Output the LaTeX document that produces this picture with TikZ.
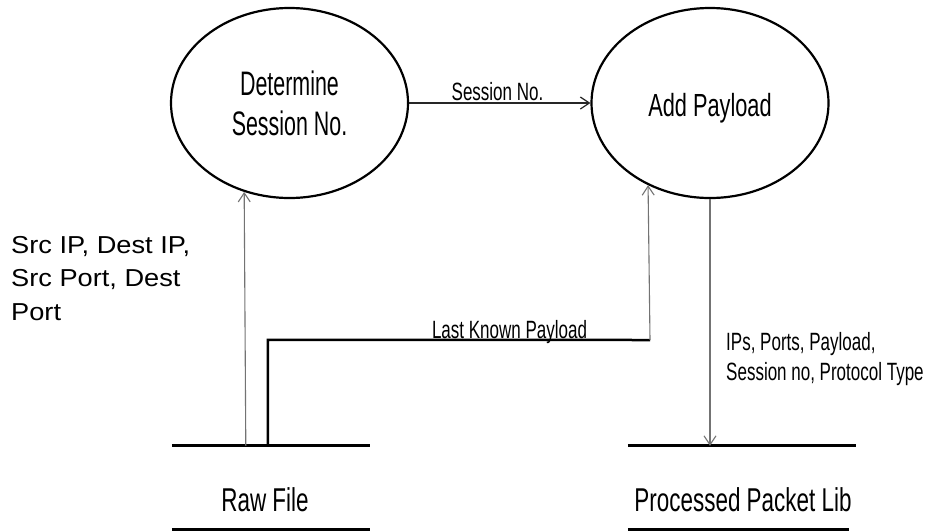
\documentclass[tikz,border=0pt]{standalone}
\usepackage{fontspec}
\setmainfont{Liberation Sans}
\newfontfamily\narrowfont[FakeStretch=0.68]{Liberation Sans}
\newfontfamily\tallfont[FakeStretch=0.63]{Liberation Sans}
\newfontfamily\widefont[FakeStretch=1.11]{Liberation Sans}
\usetikzlibrary{shapes.geometric,arrows.meta,calc}

\tikzset{
  process/.style={ellipse, draw=black, line width=2.2pt, inner sep=0pt,
    minimum width=237pt, minimum height=190pt},
  store/.style={minimum width=198pt, minimum height=83pt, inner sep=0pt},
  storeline/.style={line width=2.8pt, black},
  flow/.style={line width=1.1pt, draw=black!55,
    -{Straight Barb[length=9pt,width=12pt,line width=1.1pt]}},
  mainflow/.style={line width=1.4pt, draw=black!85,
    -{Straight Barb[length=9pt,width=12pt,line width=1.2pt]}},
  thickflow/.style={line width=2.5pt, black},
  bigtext/.style={font=\narrowfont\fontsize{32}{40}\selectfont, align=center, inner sep=0pt},
  proctext/.style={font=\tallfont\fontsize{34}{40}\selectfont, align=center, inner sep=0pt},
  storetext/.style={font=\narrowfont\fontsize{33}{40}\selectfont, inner sep=0pt},
  flowtext/.style={font=\narrowfont\fontsize{25}{30.5}\selectfont, inner sep=0pt},
  sidetext/.style={font=\widefont\fontsize{24.5}{33.5}\selectfont, inner sep=0pt, align=left}
}

\begin{document}
\begin{tikzpicture}[x=1pt,y=-1pt]
  \useasboundingbox (0,0) rectangle (936,531);

  % processes (multi-line text is placed by the baseline of its last line)
  \node[process] (det) at (289.5,103) {};
  \node[proctext, anchor=base] (dettxt) at (289.5,135) {Determine\\Session No.};
  \node[process] (pay) at (710,103) {};
  \node[bigtext, anchor=base] (paytxt) at (710,116.5) {Add Payload};

  % data stores
  \node[store] (raw) at (271,487.5) {};
  \draw[storeline] (raw.north west) -- (raw.north east);
  \draw[storeline] (raw.south west) -- (raw.south east);
  \node[storetext, anchor=base] (rawtxt) at (265,511) {Raw File};

  \node[store, minimum width=228pt] (proc) at (742,487.5) {};
  \draw[storeline] (proc.north west) -- (proc.north east);
  \draw[storeline] (proc.south west) -- ++(221,0);
  \node[storetext, anchor=base] (proctxt) at (743,511) {Processed Packet Lib};

  % connector points
  \coordinate (rawout) at ($(raw.north west)+(74,0)$);
  \coordinate (rawlast) at ($(raw.north west)+(96,0)$);
  \coordinate (bend1) at ($(rawlast)+(0,-106)$);
  \coordinate (bend2) at (650,340);

  % flows
  \draw[mainflow] (det.east) -- (pay.west);
  \node[flowtext, anchor=base] (lblsess) at (497.5,100.5) {Session No.};

  \draw[flow] (rawout) -- (det.243.8);

  \draw[thickflow] (rawlast) -- (bend1) -- (bend2);
  \draw[flow] (bend2) -- (pay.233.7);
  \node[flowtext, anchor=base] (lbllast) at (509.5,338.5) {Last Known Payload};

  \draw[flow] (pay.south) -- (pay.south |- proc.north);
  \node[flowtext, anchor=base west, align=left] (lblout) at (726,380.5)
    {IPs, Ports, Payload,\\Session no, Protocol Type};

  \node[sidetext, anchor=base west] (lblin) at (11,320)
    {Src IP, Dest IP,\\Src Port, Dest\\Port};
\end{tikzpicture}
\end{document}
